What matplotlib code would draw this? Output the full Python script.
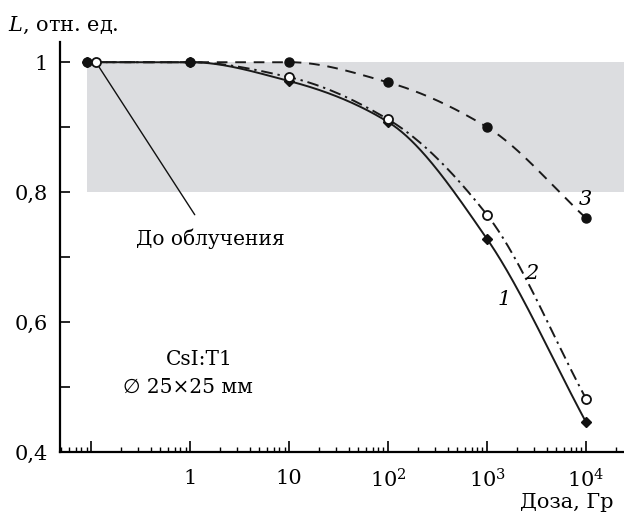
import numpy as np
import matplotlib
matplotlib.use("Agg")
import matplotlib.pyplot as plt
from matplotlib.ticker import FixedLocator, NullFormatter

plt.rcParams['font.family'] = ['DejaVu Serif', 'DejaVu Sans']
plt.rcParams['mathtext.fontset'] = 'dejavuserif'

# данные (доза, Гр; L, отн. ед.)
dose_1 = [0.092, 1, 10, 100, 1000, 10000]
L_1 = [1.0, 1.0, 0.971, 0.908, 0.728, 0.446]

dose_2 = [0.112, 1, 10, 100, 1000, 10000]
L_2 = [1.0, 1.0, 0.977, 0.912, 0.765, 0.482]

dose_3 = [0.092, 1, 10, 100, 1000, 10000]
L_3 = [1.0, 1.0, 1.0, 0.969, 0.900, 0.760]

xticks = [1, 10, 100, 1000, 10000]
xlabels = ['1', '10', '$10^2$', '$10^3$', '$10^4$']
yticks = [0.4, 0.6, 0.8, 1.0]
ylabels = ['0,4', '0,6', '0,8', '1']


def smooth(x, y, n=200):
    # монотонная кубическая интерполяция в log-шкале по x (только для вида линии)
    lx = np.log10(np.asarray(x, float))
    y = np.asarray(y, float)
    h = np.diff(lx)
    d = np.diff(y) / h
    m = np.zeros_like(y)
    m[0], m[-1] = d[0], d[-1]
    for i in range(1, len(y) - 1):
        if d[i - 1] * d[i] <= 0:
            m[i] = 0
        else:
            w1 = 2 * h[i] + h[i - 1]
            w2 = h[i] + 2 * h[i - 1]
            m[i] = (w1 + w2) / (w1 / d[i - 1] + w2 / d[i])
    xs, ys = [], []
    for i in range(len(h)):
        t = np.linspace(0, 1, n)
        h00 = 2 * t**3 - 3 * t**2 + 1
        h10 = t**3 - 2 * t**2 + t
        h01 = -2 * t**3 + 3 * t**2
        h11 = t**3 - t**2
        xs.append(lx[i] + t * h[i])
        ys.append(h00 * y[i] + h10 * h[i] * m[i] + h01 * y[i + 1] + h11 * h[i] * m[i + 1])
    return 10 ** np.concatenate(xs), np.concatenate(ys)


fig = plt.figure(figsize=(6.24, 5.17), dpi=100)
ax = fig.add_axes([0.0962, 0.1257, 0.9038, 0.793])

ax.fill_between([0.09, 3e4], 0.8, 1.0, color='#dcdde0', lw=0, zorder=0)

x1, y1 = smooth(dose_1, L_1)
x2, y2 = smooth(dose_2, L_2)
x3, y3 = smooth(dose_3, L_3)

ax.plot(x3, y3, color='#1a1a1a', lw=1.4, dashes=(5.5, 4), zorder=2)
ax.plot(x1, y1, color='#1a1a1a', lw=1.4, ls='-', zorder=2)
ax.plot(x2, y2, color='#1a1a1a', lw=1.4, dashes=(6, 2.5, 1.2, 2.5), zorder=2)

ax.plot(dose_1, L_1, ls='none', marker='D', ms=5.5, color='#111111', zorder=3)
ax.plot(dose_3, L_3, ls='none', marker='o', ms=6.5, color='#111111', zorder=3)
ax.plot(dose_2, L_2, ls='none', marker='o', ms=6.5, mfc='white', mec='#111111',
        mew=1.3, markevery=[0, 2, 3, 4, 5], zorder=4)

ax.set_xscale('log')
ax.set_xlim(0.0486, 24200)
ax.set_ylim(0.4, 1.031)

ax.xaxis.set_major_locator(FixedLocator([0.1] + xticks))
ax.set_xticklabels([''] + xlabels)
ax.xaxis.set_minor_locator(FixedLocator(
    [k * 10.0**p for p in range(-2, 5) for k in range(2, 10)]))
ax.xaxis.set_minor_formatter(NullFormatter())

ax.set_yticks(yticks)
ax.set_yticklabels(ylabels)
ax.set_yticks([0.5, 0.7, 0.9], minor=True)

ax.tick_params(axis='x', which='major', direction='in', length=8, width=1.2,
               labelsize=15, pad=12)
ax.tick_params(axis='x', which='minor', direction='in', length=3.5, width=1.0)
ax.tick_params(axis='y', which='both', direction='in', length=7, width=1.2,
               labelsize=15, pad=9)

for s in ['top', 'right']:
    ax.spines[s].set_visible(False)
for s in ['left', 'bottom']:
    ax.spines[s].set_linewidth(1.6)

ax.annotate('До облучения', xy=(0.112, 1.0), xytext=(1.59, 0.729),
            ha='center', va='center', fontsize=14.5,
            arrowprops=dict(arrowstyle='-', color='#111111', lw=1.0,
                            shrinkA=9, shrinkB=4))

ax.text(1480, 0.634, '1', style='italic', fontsize=15, ha='center', va='center')
ax.text(2830, 0.675, '2', style='italic', fontsize=15, ha='center', va='center')
ax.text(9800, 0.788, '3', style='italic', fontsize=15, ha='center', va='center')

ax.text(1.23, 0.542, 'CsI:T1', fontsize=14.5, ha='center', va='center')
ax.text(0.95, 0.500, '∅ 25×25 мм', fontsize=14.5, ha='center', va='center')

fig.text(8 / 624, 1 - 25 / 517, '$L$, отн. ед.', fontsize=15, ha='left', va='center')
fig.text(613 / 624, 1 - 503 / 517, 'Доза, Гр', fontsize=15, ha='right', va='center')

fig.savefig('out.png', dpi=100)
